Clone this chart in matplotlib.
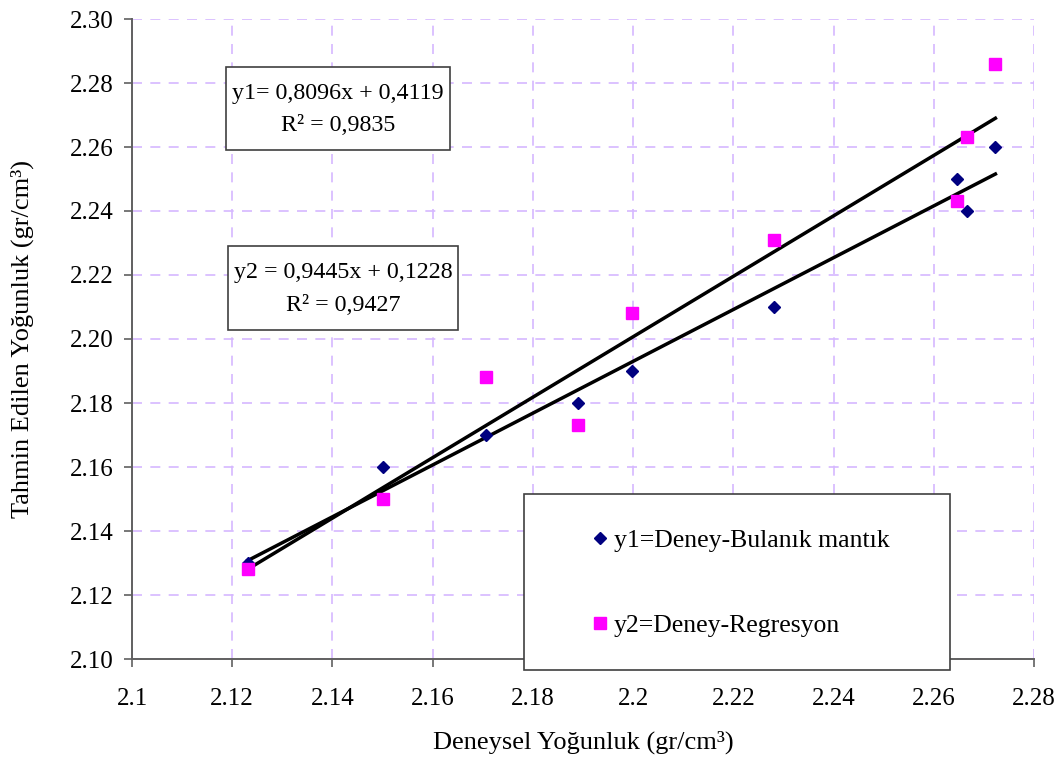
import matplotlib.pyplot as plt
from matplotlib.patches import Rectangle

plt.rcParams['font.family'] = ['Liberation Serif', 'DejaVu Serif']

# deneysel yogunluk (x) and the two predicted series
x_deney = [2.1231, 2.1501, 2.1706, 2.1890, 2.1997, 2.2282, 2.2646, 2.2666, 2.2723]
y1_bulanik = [2.130, 2.160, 2.170, 2.180, 2.190, 2.210, 2.250, 2.240, 2.260]
y2_regresyon = [2.128, 2.150, 2.188, 2.173, 2.208, 2.231, 2.243, 2.263, 2.286]

# trendline coefficients shown on the chart
fit1 = (0.8096, 0.4119)
fit2 = (0.9445, 0.1228)

x_ticks = [2.10, 2.12, 2.14, 2.16, 2.18, 2.20, 2.22, 2.24, 2.26, 2.28]
x_tick_labels = ['2.1', '2.12', '2.14', '2.16', '2.18', '2.2', '2.22', '2.24', '2.26', '2.28']
y_ticks = [2.10, 2.12, 2.14, 2.16, 2.18, 2.20, 2.22, 2.24, 2.26, 2.28, 2.30]

W, H = 1064, 760
fig = plt.figure(figsize=(W / 100, H / 100), dpi=100)
ax = fig.add_axes([132 / W, 1 - 659 / H, 902 / W, 640 / H])

grid_col = '#D5B8FF'
ax.grid(True, color=grid_col, linestyle=(0, (6, 5)), linewidth=1.2)
ax.set_axisbelow(True)

xs = [min(x_deney), max(x_deney)]
for a, b in (fit1, fit2):
    ax.plot(xs, [a * v + b for v in xs], color='black', lw=2.5, zorder=3)

ax.plot(x_deney, y1_bulanik, 'D', color='#000080', ms=6.5, ls='none',
        label='y1=Deney-Bulanık mantık', zorder=4)
ax.plot(x_deney, y2_regresyon, 's', color='#FF00FF', ms=8.5, ls='none',
        label='y2=Deney-Regresyon', zorder=4)

ax.set_xlim(2.10, 2.28)
ax.set_ylim(2.10, 2.30)
ax.set_xticks(x_ticks)
ax.set_xticklabels(x_tick_labels, family='Liberation Serif')
ax.set_yticks(y_ticks)
ax.set_yticklabels(['%.2f' % v for v in y_ticks], family='Liberation Serif')
ax.tick_params(labelsize=18, length=6, width=1.2, color='#606060')
ax.tick_params(axis='x', pad=15)
ax.tick_params(axis='y', pad=7)

for s in ('top', 'right'):
    ax.spines[s].set_visible(False)
for s in ('left', 'bottom'):
    ax.spines[s].set_color('#606060')
    ax.spines[s].set_linewidth(1.4)

ax.set_xlabel('Deneysel Yoğunluk (gr/cm³)', fontsize=19)
ax.set_ylabel('Tahmin Edilen Yoğunluk (gr/cm³)', fontsize=19)
ax.xaxis.label.set_va('center')
ax.yaxis.label.set_va('center')
ax.xaxis.set_label_coords(0.5, (659 - 742) / 640)
ax.yaxis.set_label_coords((22 - 132) / 902, 0.5)

# equation boxes (left, top, right, bottom in pixels)
eq_boxes = [((226, 67, 450, 150), 'y1= 0,8096x + 0,4119\nR² = 0,9835'),
            ((228, 246, 458, 330), 'y2 = 0,9445x + 0,1228\nR² = 0,9427')]
for (l, t, r, b), txt in eq_boxes:
    ax.add_patch(Rectangle((l / W, 1 - b / H), (r - l) / W, (b - t) / H,
                           transform=fig.transFigure, fc='white', ec='#404040',
                           lw=1.2, clip_on=False, zorder=6))
    fig.text((l + r) / 2 / W, 1 - ((t + b) / 2 + 1) / H, txt, ha='center',
             va='center', fontsize=17.3, linespacing=1.7, zorder=7)

# legend frame (Excel style, larger than its contents)
rect = Rectangle((524 / W, 1 - 670 / H), 426 / W, 176 / H,
                 transform=fig.transFigure, fc='white', ec='#404040', lw=1.2,
                 clip_on=False, zorder=7)
ax.add_patch(rect)
leg = fig.legend(loc='center left', bbox_to_anchor=(564 / W, 1 - 583 / H),
                 frameon=False, prop={'family': 'Liberation Serif', 'size': 18.5},
                 labelspacing=2.45, handletextpad=0.05, handlelength=1.0)
leg.set_zorder(8)

fig.savefig('out.png', dpi=100)
